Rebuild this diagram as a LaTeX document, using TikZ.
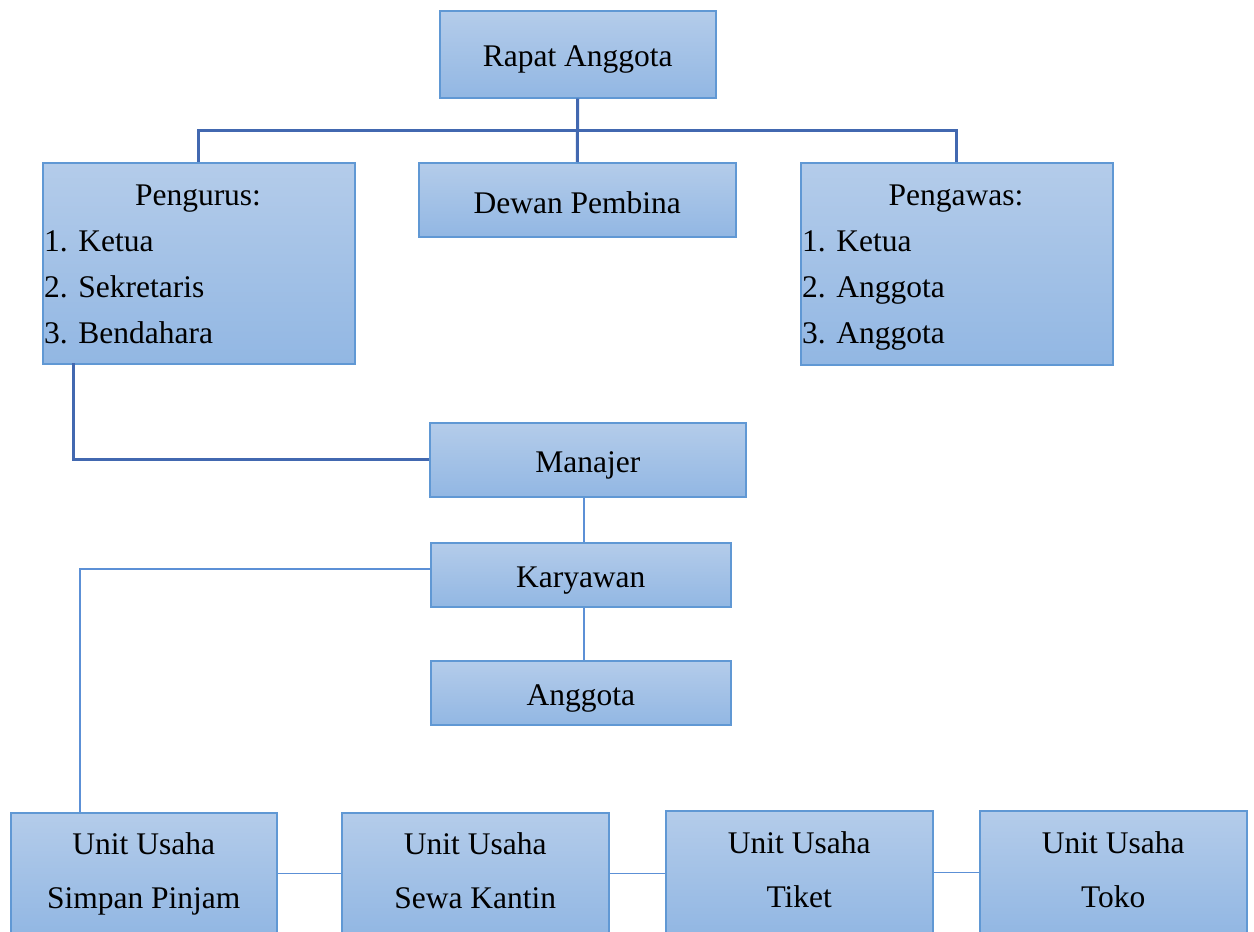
\documentclass[tikz,border=0pt]{standalone}
\usepackage{fontspec}
\setmainfont{Liberation Serif}
\usetikzlibrary{positioning}
\definecolor{boxtop}{RGB}{180,204,234}
\definecolor{boxbot}{RGB}{146,183,227}
\definecolor{boxline}{RGB}{96,152,212}
\definecolor{linkdark}{RGB}{66,104,176}
\definecolor{linklight}{RGB}{92,144,214}
\newcommand{\boxstrut}{\rule[-5pt]{0pt}{37pt}}
\newcommand{\unitstrut}{\rule[-8pt]{0pt}{33pt}}
\tikzset{
  orgbox/.style={draw=boxline, line width=1.5pt, top color=boxtop, bottom color=boxbot,
    inner sep=0pt, anchor=north west, align=center,
    font=\fontsize{31.5}{54}\selectfont},
  listtext/.style={inner sep=0pt, anchor=base west, font=\fontsize{31.5}{38}\selectfont},
  mainlink/.style={draw=linkdark, line width=3pt},
  sublink/.style={draw=linklight, line width=1.5pt}
}
\begin{document}
\begin{tikzpicture}[x=1pt,y=-1pt]
        \useasboundingbox (0,0) rectangle (1254,932);
        % atas
        \node[orgbox, minimum width=276pt, minimum height=87pt] (rapat) at (439,10) {\boxstrut Rapat Anggota};
        \node[orgbox, minimum width=312pt, minimum height=201pt] (pengurus) at (42,162) {};
        \node[orgbox, minimum width=317pt, minimum height=74pt] (dewan) at (418,162) {\boxstrut Dewan Pembina};
        \node[orgbox, minimum width=312pt, minimum height=202pt] (pengawas) at (800,162) {};
        \node[listtext, anchor=base] (pengurusjudul) at (198,205) {Pengurus:};
        \node[listtext] (pengurus1) at (44,251) {1. Ketua};
        \node[listtext] (pengurus2) at (44,297) {2. Sekretaris};
        \node[listtext] (pengurus3) at (44,343) {3. Bendahara};
        \node[listtext, anchor=base] (pengawasjudul) at (956,205) {Pengawas:};
        \node[listtext] (pengawas1) at (802,251) {1. Ketua};
        \node[listtext] (pengawas2) at (802,297) {2. Anggota};
        \node[listtext] (pengawas3) at (802,343) {3. Anggota};
        % tengah
        \node[orgbox, minimum width=316pt, minimum height=74pt] (manajer) at (429,422) {\boxstrut Manajer};
        \node[orgbox, minimum width=300pt, minimum height=64pt] (karyawan) at (430,542) {\boxstrut Karyawan};
        \node[orgbox, minimum width=300pt, minimum height=64pt] (anggota) at (430,660) {\boxstrut Anggota};
        % unit usaha
        \node[orgbox, minimum width=266pt, minimum height=121pt] (simpan) at (10,812) {\unitstrut Unit Usaha\\\unitstrut Simpan Pinjam};
        \node[orgbox, minimum width=267pt, minimum height=121pt] (sewa) at (341,812) {\unitstrut Unit Usaha\\\unitstrut Sewa Kantin};
        \node[orgbox, minimum width=267pt, minimum height=123pt] (tiket) at (665,810) {\unitstrut Unit Usaha\\\unitstrut Tiket};
        \node[orgbox, minimum width=267pt, minimum height=123pt] (toko) at (979,810) {\unitstrut Unit Usaha\\\unitstrut Toko};
        % garis
        \coordinate (bus) at (577,130);
        \coordinate (pengurusbawah) at (73,363);
        \coordinate (tengah) at (584,0);
        \coordinate (karyawankiri) at (430,569);
        \coordinate (simpanatas) at (80,812);
        \draw[mainlink] (rapat.south) -- (dewan.north);
        \draw[mainlink] (pengurus.north) |- (bus) -| (pengawas.north);
        \draw[mainlink] (pengurusbawah) |- (manajer.west);
        \draw[sublink] (manajer.south -| tengah) -- (karyawan.north -| tengah);
        \draw[sublink] (karyawankiri) -| (simpanatas);
        \draw[sublink] (karyawan.south -| tengah) -- (anggota.north -| tengah);
        \draw[sublink] (simpan.east) -- (sewa.west);
        \draw[sublink] (sewa.east) -- (sewa.east -| tiket.west);
        \draw[sublink] (tiket.east) -- (tiket.east -| toko.west);
\end{tikzpicture}
\end{document}
